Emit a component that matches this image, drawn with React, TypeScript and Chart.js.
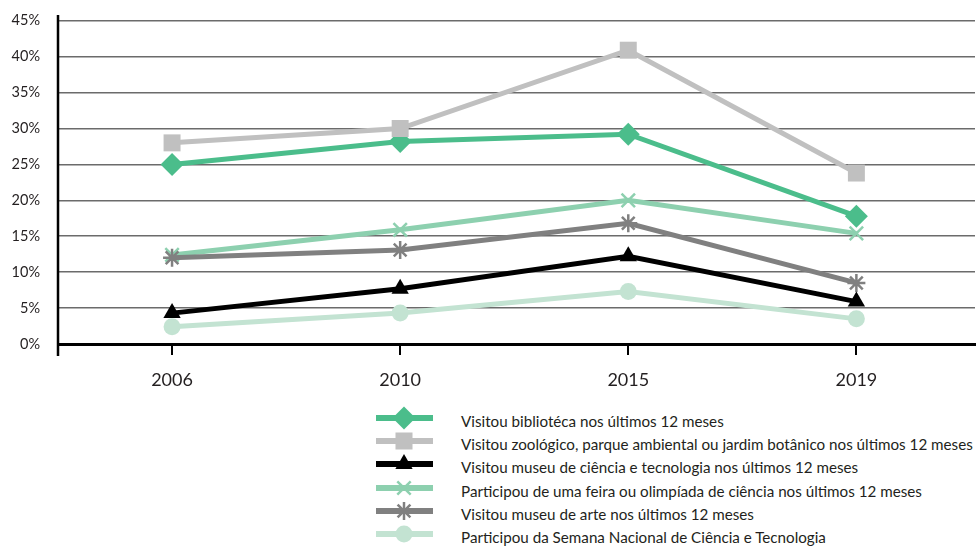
import React, { useEffect, useRef } from "react";
import { Chart, registerables } from "chart.js";

Chart.register(...registerables);

const categories = ["2006", "2010", "2015", "2019"];
const yTicks = [0, 5, 10, 15, 20, 25, 30, 35, 40, 45];

const biblioteca = [25, 28.2, 29.2, 17.8];
const zoologico = [28.0, 30.0, 40.9, 23.8];
const museuCiencia = [4.3, 7.7, 12.2, 5.9];
const feira = [12.4, 15.9, 20.0, 15.4];
const museuArte = [12.0, 13.1, 16.8, 8.5];
const semana = [2.4, 4.3, 7.3, 3.5];

const seriesLabels = [
  "Visitou bibliotéca nos últimos 12 meses",
  "Visitou zoológico, parque ambiental ou jardim botânico nos últimos 12 meses",
  "Visitou museu de ciência e tecnologia nos últimos 12 meses",
  "Participou de uma feira ou olimpíada de ciência nos últimos 12 meses",
  "Visitou museu de arte nos últimos 12 meses",
  "Participou da Semana Nacional de Ciência e Tecnologia",
];
const seriesColors = ["#4bbd8b", "#c0c0c0", "#000000", "#8dd0af", "#808080", "#c3e3d2"];
const seriesStyles = ["rectRot", "rect", "triangle", "crossRot", "star", "circle"];
const seriesRadius = [11.5, 12, 10, 9.5, 9, 8.5];
const seriesValues = [biblioteca, zoologico, museuCiencia, feira, museuArte, semana];
const drawOrder = [5, 2, 4, 3, 1, 0];

const FONT = "Lato, 'Open Sans', sans-serif";

const yAxisLine = {
  id: "yAxisLine",
  beforeDatasetsDraw(chart: any) {
    const { ctx, chartArea } = chart;
    ctx.save();
    ctx.strokeStyle = "#000";
    ctx.lineWidth = 2.5;
    ctx.beginPath();
    ctx.moveTo(chartArea.left, chartArea.top);
    ctx.lineTo(chartArea.left, chartArea.bottom + 12);
    ctx.stroke();
    ctx.restore();
  },
};

function LegendIcon({ i }: { i: number }) {
  const c = seriesColors[i];
  const cx = 32;
  const cy = 13;
  let marker: any = null;
  const s = seriesStyles[i];
  if (s === "rectRot") {
    const r = 11.5;
    marker = <polygon points={`${cx},${cy - r} ${cx + r},${cy} ${cx},${cy + r} ${cx - r},${cy}`} fill={c} />;
  } else if (s === "rect") {
    marker = <rect x={cx - 8.5} y={cy - 8.5} width={17} height={17} fill={c} />;
  } else if (s === "triangle") {
    const r = 10;
    marker = (
      <polygon
        points={`${cx},${cy - r} ${cx + r * 0.866},${cy + r * 0.5} ${cx - r * 0.866},${cy + r * 0.5}`}
        fill={c}
      />
    );
  } else if (s === "crossRot") {
    const d = 6.7;
    marker = (
      <g stroke={c} strokeWidth={2.5}>
        <line x1={cx - d} y1={cy - d} x2={cx + d} y2={cy + d} />
        <line x1={cx - d} y1={cy + d} x2={cx + d} y2={cy - d} />
      </g>
    );
  } else if (s === "star") {
    const r = 9;
    const d = 6.4;
    marker = (
      <g stroke={c} strokeWidth={2.5}>
        <line x1={cx} y1={cy - r} x2={cx} y2={cy + r} />
        <line x1={cx - d} y1={cy - d} x2={cx + d} y2={cy + d} />
        <line x1={cx - d} y1={cy + d} x2={cx + d} y2={cy - d} />
      </g>
    );
  } else {
    marker = <circle cx={cx} cy={cy} r={8.5} fill={c} />;
  }
  return (
    <svg width={70} height={26} style={{ position: "absolute", left: 372, top: -13 }}>
      <line x1={4} y1={cy} x2={61} y2={cy} stroke={c} strokeWidth={6} />
      {marker}
    </svg>
  );
}

export default function App() {
  const ref = useRef<HTMLCanvasElement | null>(null);

  useEffect(() => {
    if (!ref.current) return;
    const datasets = drawOrder.map((i) => ({
      label: seriesLabels[i],
      data: seriesValues[i].map((y, x) => ({ x, y })),
      borderColor: seriesColors[i],
      backgroundColor: seriesColors[i],
      borderWidth: 5,
      pointStyle: seriesStyles[i] as any,
      pointRadius: seriesRadius[i],
      pointBorderWidth: seriesStyles[i] === "crossRot" || seriesStyles[i] === "star" ? 2.5 : 0,
      pointBorderColor: seriesColors[i],
      pointBackgroundColor: seriesColors[i],
      tension: 0,
      clip: false as any,
    }));
    const chart = new Chart(ref.current, {
      type: "line",
      data: { datasets },
      options: {
        responsive: false,
        animation: false,
        layout: { autoPadding: false, padding: { top: 15, right: 2, left: 0, bottom: 0 } },
        plugins: { legend: { display: false }, tooltip: { enabled: false } },
        scales: {
          x: {
            type: "linear",
            min: -0.5,
            max: 3.52,
            afterBuildTicks: (scale: any) => {
              scale.ticks = categories.map((_, i) => ({ value: i }));
            },
            afterFit: (scale: any) => {
              scale.height = 56;
              scale.paddingLeft = 0;
              scale.paddingRight = 0;
            },
            ticks: {
              autoSkip: false,
              padding: 14,
              color: "#231f20",
              font: { family: FONT, size: 18 },
              callback: (v: any) => categories[v] ?? "",
            },
            grid: {
              drawOnChartArea: false,
              drawTicks: true,
              tickLength: 11,
              color: "#000",
              lineWidth: 2,
            },
            border: { display: true, color: "#000", width: 3 },
          },
          y: {
            min: 0,
            max: 45.8,
            afterBuildTicks: (scale: any) => {
              scale.ticks = yTicks.map((v) => ({ value: v }));
            },
            afterFit: (scale: any) => {
              scale.width = 58;
              scale.paddingTop = 0;
              scale.paddingBottom = 0;
            },
            ticks: {
              padding: 18,
              color: "#231f20",
              font: { family: FONT, size: 14.5 },
              callback: (v: any) => v + "%",
            },
            grid: { color: "#6b6b6b", lineWidth: 1.5, drawTicks: false },
            border: { display: false },
          },
        },
      },
      plugins: [yAxisLine],
    });
    return () => chart.destroy();
  }, []);

  return (
    <div style={{ position: "absolute", left: 0, top: 0, width: 977, height: 546, background: "#fff", overflow: "hidden" }}>
      <canvas ref={ref} width={977} height={400} style={{ position: "absolute", left: 0, top: 0 }} />
      {seriesLabels.map((label, i) => (
        <div key={i} style={{ position: "absolute", left: 0, top: 421 + i * 23.2, width: 977, height: 0 }}>
          <div style={{ position: "absolute", left: 0, top: -3 }}>
            <LegendIcon i={i} />
          </div>
          <div
            style={{
              position: "absolute",
              left: 461,
              top: -10,
              fontFamily: FONT,
              fontSize: 15.2,
              lineHeight: "20px",
              color: "#231f20",
              whiteSpace: "nowrap",
            }}
          >
            {label}
          </div>
        </div>
      ))}
    </div>
  );
}
